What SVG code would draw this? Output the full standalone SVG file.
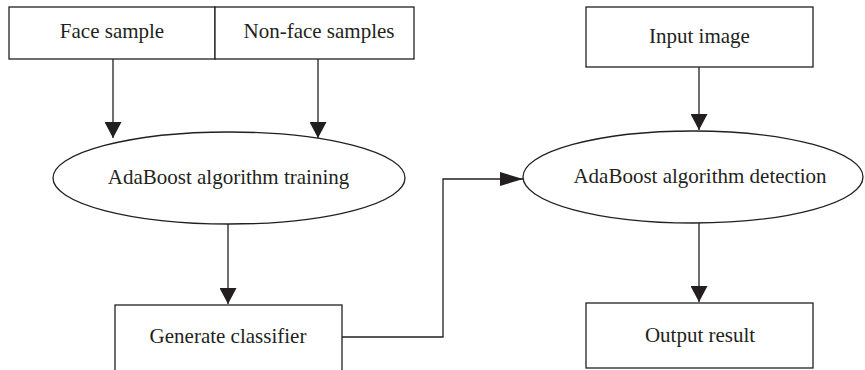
<svg xmlns="http://www.w3.org/2000/svg" width="865" height="370" viewBox="0 0 865 370">
  <style>
    .box { fill: #ffffff; stroke: #231f20; stroke-width: 1.3; }
    .lbl { font-family: "Liberation Serif", "Times New Roman", serif; font-size: 21px; fill: #231f20; text-anchor: middle; }
    .conn { fill: none; stroke: #231f20; stroke-width: 1.3; }
  </style>
  <defs>
    <marker id="arrV" markerUnits="userSpaceOnUse" markerWidth="16" markerHeight="17" viewBox="0 0 16 17" refX="16" refY="8.5" orient="auto">
      <path d="M0,0 L16,8.5 L0,17 Z" fill="#231f20"/>
    </marker>
    <marker id="arrH" markerUnits="userSpaceOnUse" markerWidth="23" markerHeight="14" viewBox="0 0 23 14" refX="23" refY="7" orient="auto">
      <path d="M0,0 L23,7 L0,14 Z" fill="#231f20"/>
    </marker>
  </defs>
  <rect width="865" height="370" fill="#ffffff"/>

  <g id="face-sample">
    <rect class="box" x="9" y="7" width="206" height="52"/>
    <text class="lbl" x="112" y="38">Face sample</text>
  </g>
  <g id="nonface-samples">
    <rect class="box" x="215" y="7" width="199" height="52"/>
    <text class="lbl" x="319" y="38">Non-face samples</text>
  </g>
  <g id="input-image">
    <rect class="box" x="586" y="7" width="227" height="60"/>
    <text class="lbl" x="699.5" y="43">Input image</text>
  </g>
  <g id="adaboost-training">
    <ellipse class="box" cx="229" cy="178" rx="176" ry="46"/>
    <text class="lbl" x="228.5" y="184">AdaBoost algorithm training</text>
  </g>
  <g id="adaboost-detection">
    <ellipse class="box" cx="693" cy="177" rx="170" ry="46"/>
    <text class="lbl" x="700" y="182.5">AdaBoost algorithm detection</text>
  </g>
  <g id="generate-classifier">
    <rect class="box" x="115" y="305" width="227" height="75"/>
    <text class="lbl" x="228" y="343">Generate classifier</text>
  </g>
  <g id="output-result">
    <rect class="box" x="586" y="303" width="227" height="65"/>
    <text class="lbl" x="700" y="342">Output result</text>
  </g>

  <g id="connectors">
    <line class="conn" x1="113" y1="59" x2="113" y2="138" marker-end="url(#arrV)"/>
    <line class="conn" x1="318" y1="59" x2="318" y2="138" marker-end="url(#arrV)"/>
    <line class="conn" x1="699" y1="67" x2="699" y2="130" marker-end="url(#arrV)"/>
    <line class="conn" x1="228" y1="224" x2="228" y2="304" marker-end="url(#arrV)"/>
    <path class="conn" d="M342,337 H443 V179 H523" marker-end="url(#arrH)"/>
    <line class="conn" x1="699" y1="223" x2="699" y2="302" marker-end="url(#arrV)"/>
  </g>
</svg>
